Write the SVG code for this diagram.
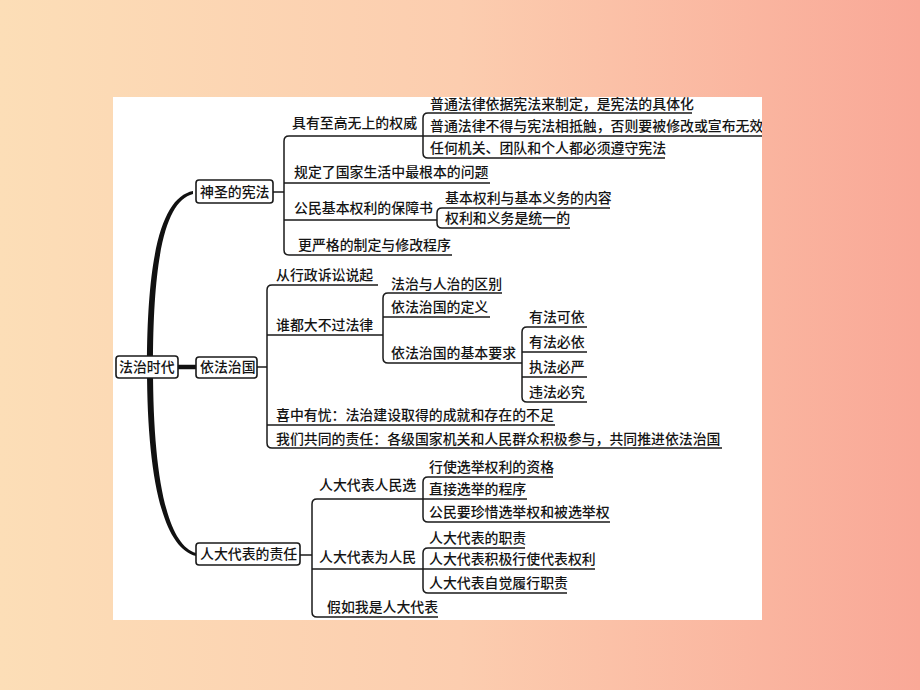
<svg xmlns="http://www.w3.org/2000/svg" width="920" height="690" viewBox="0 0 920 690">
<defs>
<linearGradient id="bg" x1="0" y1="0" x2="1" y2="0">
<stop offset="0" stop-color="#FCDEB7"/>
<stop offset="0.5" stop-color="#FCCDAF"/>
<stop offset="1" stop-color="#F9A897"/>
</linearGradient>
<clipPath id="panel"><rect x="113" y="97" width="649" height="523"/></clipPath>
<style>
.t{font-family:"Noto Sans CJK SC","Noto Sans",sans-serif;font-size:13.9px;font-weight:500;fill:#141414}
.ln{fill:none;stroke:#1a1a1a;stroke-width:1.5}
.box{fill:#fff;stroke:#1a1a1a;stroke-width:1.6}
</style>
</defs>
<rect width="920" height="690" fill="url(#bg)"/>
<rect x="113" y="97" width="649" height="523" fill="#fff"/>
<g clip-path="url(#panel)">
<g id="connectors">
<path d="M193,191 C163,197 147,250 147,367 C147,478 163,548 196,556 L196,553 C167,545 153,476 153,367 C153,254 166,201 193,194 Z" fill="#111"/>
<path d="M178,367 H196" stroke="#111" stroke-width="4.5"/>
<path class="ln" d="M273,192 H284"/>
<path class="ln" d="M423,136 H289 Q284,136 284,141 V250 Q284,255 289,255 H452"/>
<path class="ln" d="M284,183 H490 M284,220 H437"/>
<path class="ln" d="M692,113 H428 Q423,113 423,118 V153 Q423,158 428,158 H665"/>
<path class="ln" d="M423,136 H762"/>
<path class="ln" d="M610,208 H442 Q437,208 437,213 V223 Q437,228 442,228 H570"/>
<path class="ln" d="M257,367 H267"/>
<path class="ln" d="M378,285 H272 Q267,285 267,290 V443 Q267,448 272,448 H722"/>
<path class="ln" d="M267,335 H383 M267,425 H555"/>
<path class="ln" d="M502,293 H388 Q383,293 383,298 V358 Q383,363 388,363 H522"/>
<path class="ln" d="M383,317 H490"/>
<path class="ln" d="M587,327 H527 Q522,327 522,332 V397 Q522,402 527,402 H587"/>
<path class="ln" d="M522,352 H587 M522,377 H587"/>
<path class="ln" d="M300,555 H312"/>
<path class="ln" d="M423,499 H317 Q312,499 312,504 V612 Q312,617 317,617 H438"/>
<path class="ln" d="M312,569 H423"/>
<path class="ln" d="M553,477 H428 Q423,477 423,482 V517 Q423,522 428,522 H610"/>
<path class="ln" d="M423,499 H527"/>
<path class="ln" d="M525,548 H428 Q423,548 423,553 V588 Q423,593 428,593 H567"/>
<path class="ln" d="M423,569 H595"/>
</g>
<g id="root"><rect class="box" x="116" y="356" width="62" height="22" rx="3"/><text class="t" x="119" y="372">法治时代</text></g>
<g id="n1"><rect class="box" x="196" y="180" width="77" height="23" rx="3"/><text class="t" x="200" y="197">神圣的宪法</text></g>
<g id="n1a"><text class="t" x="292" y="128">具有至高无上的权威</text></g>
<g id="n1a1"><text class="t" x="430" y="109">普通法律依据宪法来制定，是宪法的具体化</text></g>
<g id="n1a2"><text class="t" x="430" y="131">普通法律不得与宪法相抵触，否则要被修改或宣布无效</text></g>
<g id="n1a3"><text class="t" x="430" y="153">任何机关、团队和个人都必须遵守宪法</text></g>
<g id="n1b"><text class="t" x="294" y="177">规定了国家生活中最根本的问题</text></g>
<g id="n1c"><text class="t" x="294" y="213">公民基本权利的保障书</text></g>
<g id="n1c1"><text class="t" x="445" y="203">基本权利与基本义务的内容</text></g>
<g id="n1c2"><text class="t" x="445" y="223">权利和义务是统一的</text></g>
<g id="n1d"><text class="t" x="298" y="250">更严格的制定与修改程序</text></g>
<g id="n2"><rect class="box" x="196" y="357" width="61" height="21" rx="3"/><text class="t" x="200" y="372">依法治国</text></g>
<g id="n2a"><text class="t" x="276" y="280">从行政诉讼说起</text></g>
<g id="n2b"><text class="t" x="276" y="330">谁都大不过法律</text></g>
<g id="n2b1"><text class="t" x="391" y="289">法治与人治的区别</text></g>
<g id="n2b2"><text class="t" x="391" y="312">依法治国的定义</text></g>
<g id="n2b3"><text class="t" x="391" y="358">依法治国的基本要求</text></g>
<g id="n2b3a"><text class="t" x="529" y="322">有法可依</text></g>
<g id="n2b3b"><text class="t" x="529" y="347">有法必依</text></g>
<g id="n2b3c"><text class="t" x="529" y="372">执法必严</text></g>
<g id="n2b3d"><text class="t" x="529" y="397">违法必究</text></g>
<g id="n2c"><text class="t" x="276" y="420">喜中有忧：法治建设取得的成就和存在的不足</text></g>
<g id="n2d"><text class="t" x="276" y="444">我们共同的责任：各级国家机关和人民群众积极参与，共同推进依法治国</text></g>
<g id="n3"><rect class="box" x="196" y="543" width="104" height="22" rx="3"/><text class="t" x="200" y="559">人大代表的责任</text></g>
<g id="n3a"><text class="t" x="319" y="490">人大代表人民选</text></g>
<g id="n3a1"><text class="t" x="429" y="472">行使选举权利的资格</text></g>
<g id="n3a2"><text class="t" x="429" y="494">直接选举的程序</text></g>
<g id="n3a3"><text class="t" x="429" y="517">公民要珍惜选举权和被选举权</text></g>
<g id="n3b"><text class="t" x="319" y="562">人大代表为人民</text></g>
<g id="n3b1"><text class="t" x="429" y="543">人大代表的职责</text></g>
<g id="n3b2"><text class="t" x="429" y="564">人大代表积极行使代表权利</text></g>
<g id="n3b3"><text class="t" x="429" y="588">人大代表自觉履行职责</text></g>
<g id="n3c"><text class="t" x="327" y="612">假如我是人大代表</text></g>
</g>
</svg>
